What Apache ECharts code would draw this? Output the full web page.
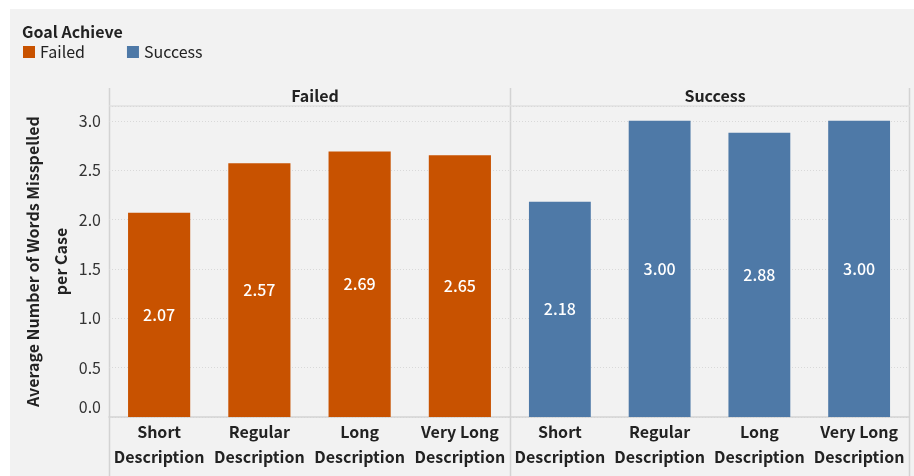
<!DOCTYPE html>
<html>
<head>
<meta charset="utf-8">
<script src="https://cdn.jsdelivr.net/npm/echarts@6/dist/echarts.min.js"></script>
<style>
html,body{margin:0;padding:0;background:#fff;}
#bg{position:absolute;left:10px;top:9px;width:904px;height:467px;background:#f2f2f2;}
#chart{position:absolute;left:0;top:0;width:914px;height:476px;}
</style>
</head>
<body>
<div id="bg"></div>
<div id="chart"></div>
<script>
var categories = ['Short\nDescription', 'Regular\nDescription', 'Long\nDescription', 'Very Long\nDescription'];
var panels = ['Failed', 'Success'];
var failedValues = [2.07, 2.57, 2.69, 2.65];
var successValues = [2.18, 3.00, 2.88, 3.00];
var yTicks = [0, 0.5, 1.0, 1.5, 2.0, 2.5, 3.0];
var yTitle = 'Average Number of Words Misspelled\nper Case';
var legendTitle = 'Goal Achieve';

var FONT = '"Noto Sans CJK JP", "Noto Sans", sans-serif';
var colors = ['#c85200', '#4e79a7'];
var lineColor = '#d3d3d3';

var chart = echarts.init(document.getElementById('chart'), null, {renderer: 'canvas'});

function xAxisCfg(idx) {
  return {
    type: 'category', gridIndex: idx, data: categories,
    axisLine: {show: true, lineStyle: {color: lineColor, width: 1.5}},
    axisTick: {show: false},
    axisLabel: {fontFamily: FONT, fontSize: 16, fontWeight: 'bold', color: '#222', lineHeight: 25, margin: 2, interval: 0}
  };
}
function yAxisCfg(idx) {
  return {
    type: 'value', gridIndex: idx, min: yTicks[0], max: 3.15, interval: 0.5,
    axisLine: {show: false}, axisTick: {show: false},
    splitLine: {show: true, lineStyle: {color: '#d9d9d9', type: [1, 2], width: 1}},
    axisLabel: {
      show: idx === 0, showMaxLabel: false, fontFamily: FONT, fontSize: 16, color: '#333', margin: 8,
      formatter: function (v) { return v === 0 ? '{z|0.0}' : v.toFixed(1); },
      rich: {z: {fontFamily: FONT, fontSize: 16, color: '#333', padding: [0, 0, 20, 0]}}
    },
    name: idx === 0 ? yTitle : '',
    nameLocation: 'middle', nameRotate: 90, nameGap: 31,
    nameTextStyle: {fontFamily: FONT, fontSize: 16, fontWeight: 'bold', color: '#222', lineHeight: 28}
  };
}
function seriesCfg(idx, vals) {
  return {
    name: panels[idx], type: 'bar', xAxisIndex: idx, yAxisIndex: idx, data: vals,
    barWidth: '62%', itemStyle: {color: colors[idx]},
    label: {show: true, position: 'inside', color: '#fff', fontFamily: FONT, fontSize: 16, fontWeight: 500,
      formatter: function (p) { return p.value.toFixed(2); }}
  };
}

var option = {
  animation: false,
  backgroundColor: 'transparent',
  grid: [
    {left: 109, width: 401, top: 106, bottom: 59},
    {left: 510, width: 399, top: 106, bottom: 59}
  ],
  xAxis: [xAxisCfg(0), xAxisCfg(1)],
  yAxis: [yAxisCfg(0), yAxisCfg(1)],
  legend: {
    data: panels, left: 18, top: 39, icon: 'rect', itemWidth: 12, itemHeight: 12, itemGap: 42,
    textStyle: {fontFamily: FONT, fontSize: 16, color: '#222'}
  },
  title: [
    {text: legendTitle, left: 17, top: 19, textStyle: {fontFamily: FONT, fontSize: 16, fontWeight: 'bold', color: '#222'}},
    {text: panels[0], left: 310, top: 83, textAlign: 'center', textStyle: {fontFamily: FONT, fontSize: 16, fontWeight: 'bold', color: '#222'}},
    {text: panels[1], left: 710, top: 83, textAlign: 'center', textStyle: {fontFamily: FONT, fontSize: 16, fontWeight: 'bold', color: '#222'}}
  ],
  graphic: [
    {type: 'line', shape: {x1: 109.5, y1: 88, x2: 109.5, y2: 476}, style: {stroke: lineColor, lineWidth: 1.5}, silent: true},
    {type: 'line', shape: {x1: 510.5, y1: 88, x2: 510.5, y2: 476}, style: {stroke: lineColor, lineWidth: 1.5}, silent: true},
    {type: 'line', shape: {x1: 909.5, y1: 88, x2: 909.5, y2: 476}, style: {stroke: lineColor, lineWidth: 1.5}, silent: true},
    {type: 'line', shape: {x1: 109, y1: 106, x2: 910, y2: 106}, style: {stroke: '#e0e0e0', lineWidth: 1.5}, silent: true}
  ],
  series: [seriesCfg(0, failedValues), seriesCfg(1, successValues)]
};
chart.setOption(option);
</script>
</body>
</html>
